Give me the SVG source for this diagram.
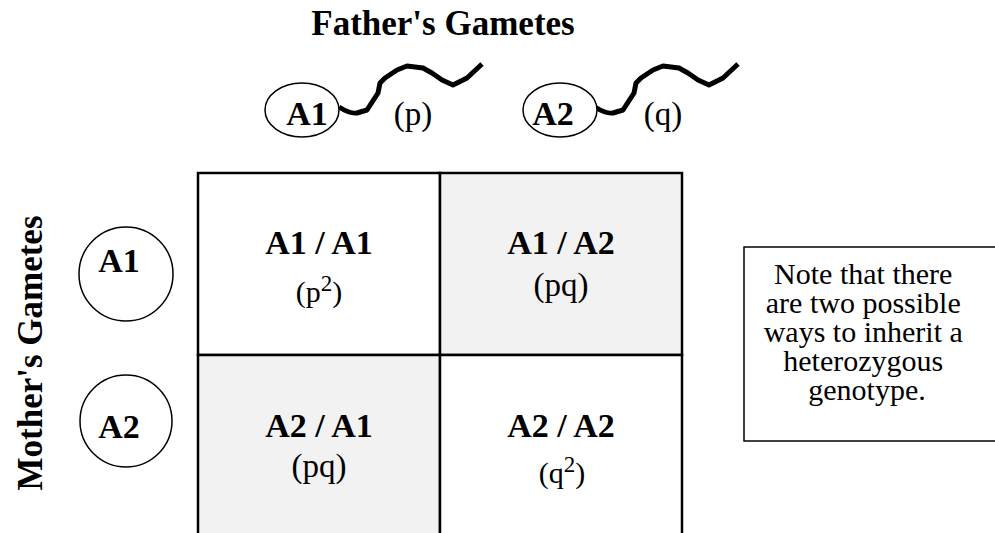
<svg xmlns="http://www.w3.org/2000/svg" width="995" height="533" viewBox="0 0 995 533">
<style>
text{font-family:"Liberation Serif","Times New Roman",serif;fill:#000}
.b{font-weight:bold;font-size:34px}
.r{font-size:33px}
.s{font-size:30px}
.n{font-size:30px}
.title{font-weight:bold;font-size:35px}
.ov{fill:#fff;stroke:#000;stroke-width:1.5}
.tail{fill:none;stroke:#000;stroke-width:5;stroke-linejoin:round;stroke-linecap:butt}
.cell{stroke:#000;stroke-width:2.5}
</style>
<rect width="995" height="533" fill="#fff"/>
<g id="father-title"><text class="title" x="443" y="35" text-anchor="middle">Father's Gametes</text></g>
<g id="mother-title"><text class="title" transform="translate(42,353) rotate(-90)" text-anchor="middle">Mother's Gametes</text></g>
<defs>
<path id="tailp" d="M339,107 Q350,114 357,113 L367,110 L378,93 L380,83 L385,78 L397,70 L407,66 L423,68 L432,73 L442,80 L453,85 L467,78 L482,64"/>
</defs>
<g id="father-a1">
<use href="#tailp" class="tail"/>
<ellipse class="ov" cx="302" cy="110" rx="37" ry="27"/>
<text class="b" x="307" y="125" text-anchor="middle">A1</text>
<text class="r" x="413" y="125" text-anchor="middle">(p)</text>
</g>
<g id="father-a2">
<use href="#tailp" class="tail" transform="translate(256,0)"/>
<ellipse class="ov" cx="560" cy="110" rx="37" ry="27"/>
<text class="b" x="553" y="125" text-anchor="middle">A2</text>
<text class="r" x="663" y="125" text-anchor="middle">(q)</text>
</g>
<g id="mother-a1">
<circle class="ov" cx="126" cy="274" r="47"/>
<text class="b" x="119" y="272" text-anchor="middle">A1</text>
</g>
<g id="mother-a2">
<circle class="ov" cx="126" cy="421" r="46"/>
<text class="b" x="119" y="438" text-anchor="middle">A2</text>
</g>
<g id="cell-11">
<rect class="cell" x="198" y="173" width="242" height="182" fill="#fff"/>
<text class="b" x="319" y="254" text-anchor="middle">A1 / A1</text>
<text class="s" x="319" y="302" text-anchor="middle">(p<tspan font-size="23" dy="-11">2</tspan><tspan dy="11">)</tspan></text>
</g>
<g id="cell-12">
<rect class="cell" x="440" y="173" width="242" height="182" fill="#f2f2f2"/>
<text class="b" x="561" y="254" text-anchor="middle">A1 / A2</text>
<text class="r" x="561" y="296" text-anchor="middle">(pq)</text>
</g>
<g id="cell-21">
<rect class="cell" x="198" y="355" width="242" height="190" fill="#f2f2f2"/>
<text class="b" x="319" y="437" text-anchor="middle">A2 / A1</text>
<text class="r" x="319" y="477" text-anchor="middle">(pq)</text>
</g>
<g id="cell-22">
<rect class="cell" x="440" y="355" width="242" height="190" fill="#fff"/>
<text class="b" x="561" y="437" text-anchor="middle">A2 / A2</text>
<text class="s" x="562" y="483" text-anchor="middle">(q<tspan font-size="23" dy="-11">2</tspan><tspan dy="11">)</tspan></text>
</g>
<g id="note">
<rect x="744" y="247" width="270" height="194" fill="#fff" stroke="#000" stroke-width="1.5"/>
<text class="n" text-anchor="middle">
<tspan x="867" y="284">Note that there</tspan>
<tspan x="867" y="313">are two possible</tspan>
<tspan x="867" y="342">ways to inherit a</tspan>
<tspan x="867" y="371">heterozygous</tspan>
<tspan x="867" y="400">genotype.</tspan>
</text>
</g>
<g id="connectors"></g>
</svg>
